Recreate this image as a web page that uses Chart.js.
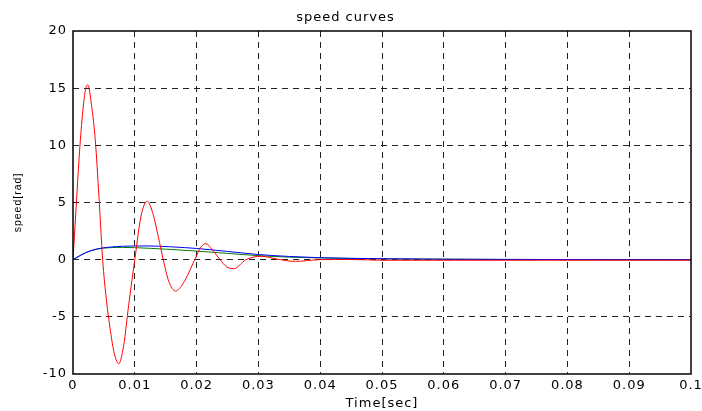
<!DOCTYPE html>
<html>
<head>
<meta charset="utf-8">
<script src="https://cdn.jsdelivr.net/npm/chart.js@4"></script>
<style>
  html, body { margin: 0; padding: 0; background: #fff; }
  #wrap { width: 702px; height: 411px; }
</style>
</head>
<body>
<div id="wrap"><canvas id="speedChart"></canvas></div>
<script>
// ------------SPEED CURVES DATA------------------ //

var redTime  = [0, 0.0005, 0.001, 0.0015, 0.002, 0.0024, 0.003, 0.0036, 0.0042, 0.0048, 0.0054, 0.006, 0.0066, 0.0074, 0.0082, 0.009, 0.01, 0.011, 0.012, 0.013, 0.0138, 0.0146, 0.0155, 0.0166, 0.0178, 0.0197, 0.0207, 0.0215, 0.0225, 0.0238, 0.0248, 0.026, 0.028, 0.0305, 0.033, 0.036, 0.04, 0.045, 0.05, 0.06, 0.07, 0.08, 0.09, 0.1];
var redSpeed = [0, 4.5, 9, 12.5, 14.8, 15.3, 13.5, 10.5, 5.5, 0, -3.5, -6, -8, -9.1, -7.5, -4, 0, 3.8, 5.1, 3.9, 2, 0, -1.9, -2.74, -2.1, 0, 1.1, 1.4, 0.9, 0, -0.6, -0.79, 0, 0.3, 0.05, -0.15, 0, 0.02, -0.05, -0.05, -0.05, -0.05, -0.05, -0.05];

var blueTime  = [0, 0.002, 0.004, 0.006, 0.008, 0.012, 0.016, 0.02, 0.025, 0.03, 0.035, 0.04, 0.05, 0.06, 0.07, 0.08, 0.1];
var blueSpeed = [0, 0.6, 0.95, 1.1, 1.17, 1.2, 1.12, 0.98, 0.72, 0.45, 0.28, 0.17, 0.08, 0.04, 0.02, 0.01, 0];

var greenTime  = [0, 0.002, 0.004, 0.006, 0.008, 0.01, 0.015, 0.02, 0.025, 0.03, 0.035, 0.04, 0.05, 0.06, 0.08, 0.1];
var greenSpeed = [0, 0.6, 0.93, 1.05, 1.07, 1.05, 0.92, 0.75, 0.55, 0.35, 0.22, 0.15, 0.08, 0.04, 0.01, 0];

var xTicks = [0, 0.01, 0.02, 0.03, 0.04, 0.05, 0.06, 0.07, 0.08, 0.09, 0.1];
var yTicks = [-10, -5, 0, 5, 10, 15, 20];

function toPoints(xs, ys) {
    return xs.map(function (x, i) { return { x: x, y: ys[i] }; });
}

// the old figure is stretched sideways, so space the letters a bit
var spacingPlugin = {
    id: 'spacing',
    beforeDraw: function (chart) {
        chart.ctx.letterSpacing = '1px';
    }
};

// solid box around the plot, like the matlab axes
var boxPlugin = {
    id: 'box',
    afterDraw: function (chart) {
        var a = chart.chartArea, ctx = chart.ctx;
        ctx.save();
        ctx.strokeStyle = '#000';
        ctx.lineWidth = 1.5;
        ctx.strokeRect(a.left, a.top, a.right - a.left, a.bottom - a.top);
        ctx.restore();
    }
};

function gridColor(ctx) {
    if (ctx.index === 0 || (ctx.scale && ctx.index === ctx.scale.ticks.length - 1)) return 'rgba(0,0,0,0)';
    return '#222';
}

var font = { family: '"DejaVu Sans", sans-serif', size: 13 };

new Chart("speedChart", {
    type: 'line',
    data: {
        datasets: [{
            label: 'red',
            data: toPoints(redTime, redSpeed),
            borderColor: '#ff0000',
            borderWidth: 1,
            pointRadius: 0,
            cubicInterpolationMode: 'monotone'
        }, {
            label: 'blue',
            data: toPoints(blueTime, blueSpeed),
            borderColor: '#0000ff',
            borderWidth: 1,
            pointRadius: 0,
            cubicInterpolationMode: 'monotone'
        }, {
            label: 'green',
            data: toPoints(greenTime, greenSpeed),
            borderColor: '#008000',
            borderWidth: 1,
            pointRadius: 0,
            cubicInterpolationMode: 'monotone'
        }]
    },
    options: {
        responsive: true,
        maintainAspectRatio: false,
        animation: false,
        layout: { padding: { left: 0, right: 11, top: 0, bottom: 0 } },
        plugins: {
            legend: { display: false },
            tooltip: { enabled: false },
            title: {
                display: true,
                text: 'speed curves',
                color: '#000',
                font: { family: font.family, size: 13, weight: 'normal' },
                padding: { top: 10, bottom: 5.4 }
            }
        },
        scales: {
            x: {
                type: 'linear',
                min: 0,
                max: 0.1,
                afterBuildTicks: function (scale) {
                    scale.ticks = xTicks.map(function (v) { return { value: v }; });
                },
                afterFit: function (scale) {
                    scale.height = 37;
                    scale.paddingLeft = 0;
                    scale.paddingRight = 0;
                },
                ticks: {
                    color: '#000',
                    font: font,
                    padding: 4,
                    maxRotation: 0,
                    autoSkip: false,
                    callback: function (v) { return String(Math.round(v * 100) / 100); }
                },
                grid: {
                    color: gridColor,
                    lineWidth: 1,
                    drawTicks: false
                },
                border: { display: false, dash: [6, 5] },
                title: {
                    display: true,
                    text: 'Time[sec]',
                    color: '#000',
                    font: { family: font.family, size: 13 },
                    padding: { top: 3.2, bottom: 0 }
                }
            },
            y: {
                min: -10,
                max: 20,
                afterBuildTicks: function (scale) {
                    scale.ticks = yTicks.map(function (v) { return { value: v }; });
                },
                afterFit: function (scale) { scale.width = 73; },
                ticks: {
                    color: '#000',
                    font: font,
                    padding: 6
                },
                grid: {
                    color: gridColor,
                    lineWidth: 1,
                    drawTicks: false
                },
                border: { display: false, dash: [6, 5] },
                title: {
                    display: true,
                    text: 'speed[rad]',
                    color: '#000',
                    font: { family: '"Liberation Sans", Arial, sans-serif', size: 10.5 },
                    padding: { top: 12, bottom: 0 }
                }
            }
        }
    },
    plugins: [spacingPlugin, boxPlugin]
});
</script>
</body>
</html>
